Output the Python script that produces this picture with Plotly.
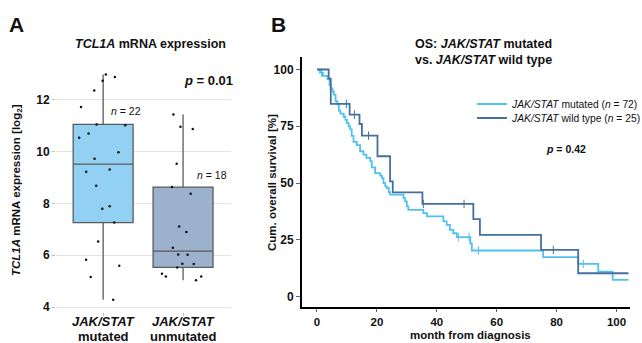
import plotly.graph_objects as go

W, H = 642, 343
FONT = "Liberation Sans"

# ---------------- Data ----------------
box_categories = ["mutated", "unmutated"]
box_n_labels = ["<i>n</i> = 22", "<i>n</i> = 18"]
tcl1a_mutated = [12.88, 12.98, 12.73, 12.36, 11.72, 11.05, 11.02, 10.70, 10.53, 9.97, 9.72,
                 9.22, 9.31, 8.68, 7.89, 7.79, 7.26, 6.53, 5.82, 5.59, 5.16, 4.28]
tcl1a_unmutated = [11.43, 10.87, 10.96, 9.53, 8.63, 8.37, 7.11, 6.90, 6.29, 6.03, 6.02,
                   5.66, 5.67, 5.53, 5.28, 5.18, 5.18, 5.03]
box_yticks = [4, 6, 8, 10, 12]

km_time_mut = [0, 1.0, 2.0, 3.5, 4.2, 4.6, 5.2, 5.6, 6.2, 6.8, 7.3, 7.8, 8.9, 9.5, 10.0, 10.6,
               11.1, 11.6, 12.2, 13.3, 14.4, 15.5, 16.5, 17.8, 18.3, 19.4, 21.1, 21.7, 22.2,
               22.8, 23.3, 24.0, 24.4, 28.9, 29.4, 30.0, 30.5, 35.5, 36.7, 42.2, 43.3, 44.4,
               45.5, 46.7, 51.2, 51.7, 75.5, 87.2, 93.9, 98.7, 104.0]
km_surv_mut = [100, 98.6, 97.2, 95.8, 93.1, 91.7, 90.3, 88.9, 86.1, 84.7, 81.9, 80.6, 79.2,
               77.8, 76.4, 75.0, 73.6, 70.8, 68.1, 66.7, 64.0, 62.5, 61.1, 59.7, 56.9, 54.4,
               53.3, 52.2, 50.0, 48.5, 47.8, 46.0, 44.9, 43.4, 41.9, 39.7, 38.2, 36.8, 35.3,
               33.1, 31.6, 29.4, 27.9, 26.2, 23.4, 20.3, 17.4, 14.4, 11.0, 7.4, 7.4]
cens_time_mut = [1.5, 47.2, 50.8, 53.9, 88.9]
cens_surv_mut = [98.6, 26.2, 26.2, 20.3, 14.4]

km_time_wt = [0, 3.9, 4.6, 10.9, 14.2, 15.0, 20.2, 24.4, 25.3, 35.2, 52.2, 54.4, 74.8, 87.2, 104.0]
km_surv_wt = [100, 96.0, 84.9, 80.1, 76.0, 70.9, 61.8, 50.7, 45.9, 40.8, 34.1, 27.2, 20.6, 10.3, 10.3]
cens_time_wt = [9.8, 12.5, 17.2, 35.5, 49.1, 78.9]
cens_surv_wt = [84.9, 80.1, 70.9, 40.8, 40.8, 20.6]

km_xticks = [0, 20, 40, 60, 80, 100]
km_yticks = [0, 25, 50, 75, 100]
km_legend = ["<i>JAK/STAT</i> mutated (<i>n</i> = 72)", "<i>JAK/STAT</i> wild type (<i>n</i> = 25)"]

# ---------------- Figure ----------------
def px(x):
    return x / W

def py(y):
    return 1 - y / H

MUT_FILL = "#92d1f3"
UNM_FILL = "#9cb1cc"
MUT_LINE = "#4fc2f0"
WT_LINE = "#44709f"

fig = go.Figure()

for cat, vals, fill in [(box_categories[0], tcl1a_mutated, MUT_FILL),
                        (box_categories[1], tcl1a_unmutated, UNM_FILL)]:
    fig.add_trace(go.Box(
        x=[cat] * len(vals), y=vals, name=cat, boxpoints="all", jitter=0.9, pointpos=0,
        width=0.75, whiskerwidth=0, fillcolor=fill,
        line=dict(color="#5a5a5a", width=1.3),
        marker=dict(color="#111111", size=2.5, line=dict(width=0)),
        xaxis="x", yaxis="y", showlegend=False, quartilemethod="linear",
    ))

legend_ids = ["legend", "legend2"]
for t, s, ct, cs, col, name, lg in [
    (km_time_mut, km_surv_mut, cens_time_mut, cens_surv_mut, MUT_LINE, km_legend[0], legend_ids[0]),
    (km_time_wt, km_surv_wt, cens_time_wt, cens_surv_wt, WT_LINE, km_legend[1], legend_ids[1]),
]:
    fig.add_trace(go.Scatter(x=t, y=s, mode="lines", line=dict(color=col, width=1.8, shape="hv"),
                             name=name, xaxis="x2", yaxis="y2", showlegend=True, legend=lg))
    fig.add_trace(go.Scatter(x=ct, y=cs, mode="markers",
                             marker=dict(symbol="line-ns", size=6, line=dict(color=col, width=1)),
                             xaxis="x2", yaxis="y2", showlegend=False, hoverinfo="skip"))

bold = dict(family=FONT, color="#111111", weight="bold")
legend_style = dict(x=px(472), xanchor="left", yanchor="middle", bgcolor="rgba(0,0,0,0)",
                    font=dict(family=FONT, size=10.3, color="#111111"), itemwidth=30)

fig.update_layout(
    width=W, height=H, margin=dict(l=0, r=0, t=0, b=0, autoexpand=False),
    paper_bgcolor="white", plot_bgcolor="white",
    font=dict(family=FONT, color="#111111"),
    xaxis=dict(domain=[px(56), px(231)], type="category", range=[-0.59, 1.6],
               tickvals=box_categories, showticklabels=False,
               ticks="outside", ticklen=3, tickcolor="#bbbbbb", showgrid=False,
               showline=False, zeroline=False, anchor="y"),
    yaxis=dict(domain=[py(312.2), py(68.7)], range=[3.8, 13.2], tickvals=box_yticks,
               tickfont=dict(size=12, **bold), ticks="outside", ticklen=3, tickcolor="#bbbbbb",
               showgrid=True, gridcolor="#e4e4e4", gridwidth=1, zeroline=False, showline=False,
               anchor="x"),
    xaxis2=dict(domain=[px(302), px(630)], range=[-5, 104.5], tickvals=km_xticks,
                tickfont=dict(size=11.5, **bold), ticks="outside", ticklen=3, tickcolor="#666666",
                showline=True, linecolor="black", linewidth=2, showgrid=False, zeroline=False,
                anchor="y2"),
    yaxis2=dict(domain=[py(307.3), py(57)], range=[-4.7, 105.5], tickvals=km_yticks,
                tickfont=dict(size=12, **bold), ticks="outside", ticklen=4, tickcolor="#666666",
                showline=True, linecolor="black", linewidth=2, showgrid=False, zeroline=False,
                anchor="x2"),
    legend=dict(y=py(104), **legend_style),
    legend2=dict(y=py(118), **legend_style),
)

ann = [
    dict(text="<b>A</b>", x=px(16), y=py(24), font=dict(size=21)),
    dict(text="<b>B</b>", x=px(278), y=py(24), font=dict(size=21)),
    dict(text="<b><i>TCL1A</i> mRNA expression</b>", x=px(150), y=py(44), font=dict(size=12.5)),
    dict(text="<b><i>p</i> = 0.01</b>", x=px(235), y=py(81), xanchor="right", font=dict(size=13)),
    dict(text=box_n_labels[0], x=px(126), y=py(111), font=dict(size=10.5)),
    dict(text=box_n_labels[1], x=px(212), y=py(175), font=dict(size=10.5)),
    dict(text="<b><i>TCL1A</i> mRNA expression [log<sub>2</sub>]</b>", x=px(17), y=py(190),
         textangle=-90, font=dict(size=11.5)),
    dict(text="<b>OS: <i>JAK/STAT</i> mutated<br>vs. <i>JAK/STAT</i> wild type</b>", x=px(413),
         y=py(52), xanchor="left", align="left", font=dict(size=12.5)),
    dict(text="<b><i>p</i> = 0.42</b>", x=px(566), y=py(149), font=dict(size=10.5)),
    dict(text="<b>Cum. overall survival [%]</b>", x=px(272), y=py(183), textangle=-90,
         font=dict(size=11.5)),
    dict(text="<b>month from diagnosis</b>", x=px(470), y=py(335), font=dict(size=11.5)),
]
for cat in box_categories:
    ann.append(dict(text="<b><i>JAK/STAT</i></b>", x=cat, xref="x", y=py(321.5), font=dict(size=13)))
    ann.append(dict(text="<b>%s</b>" % cat, x=cat, xref="x", y=py(336), font=dict(size=13)))

for a in ann:
    a.setdefault("xref", "paper")
    a.setdefault("yref", "paper")
    a.setdefault("showarrow", False)
    a.setdefault("xanchor", "center")
    a.setdefault("yanchor", "middle")
    a["font"] = dict(family=FONT, color="#111111", **a["font"])
    fig.add_annotation(**a)

# remove the browser's default 8px body margin so the 642x343 figure fills the window exactly
fig.write_html("out.html", config={"displayModeBar": False},
               post_script="document.body.style.margin='0';")
